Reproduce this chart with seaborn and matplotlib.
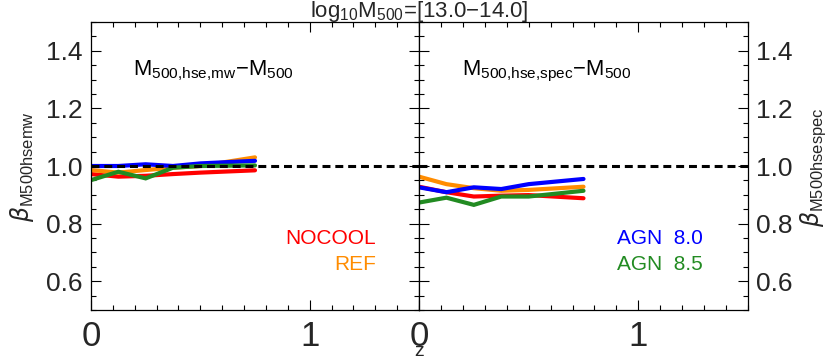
import numpy as np
import pandas as pd
import matplotlib
matplotlib.use("Agg")
import matplotlib.pyplot as plt
import seaborn as sns
from matplotlib.ticker import MultipleLocator, FixedLocator

sns.set_theme(style="white")
plt.rcParams['font.family'] = ['Liberation Sans', 'DejaVu Sans']
plt.rcParams['mathtext.fontset'] = 'custom'
plt.rcParams['mathtext.rm'] = 'Liberation Sans'
plt.rcParams['mathtext.it'] = 'DejaVu Sans:italic'
plt.rcParams['mathtext.bf'] = 'Liberation Sans:bold'

# ---- data ----
z = [0.0, 0.125, 0.25, 0.375, 0.5, 0.75]
models = ["NOCOOL", "REF", "AGN 8.0", "AGN 8.5"]
colors = ["#ff0000", "#ff8c00", "#0000ff", "#228b22"]

mw_nocool = [0.972, 0.963, 0.966, 0.972, 0.977, 0.985]
mw_ref    = [0.986, 0.977, 0.986, 0.994, 1.000, 1.030]
mw_agn80  = [1.000, 1.000, 1.006, 1.000, 1.009, 1.018]
mw_agn85  = [0.951, 0.980, 0.957, 0.994, 1.000, 1.002]

sp_nocool = [0.928, 0.909, 0.894, 0.897, 0.899, 0.888]
sp_ref    = [0.963, 0.937, 0.923, 0.914, 0.917, 0.928]
sp_agn80  = [0.926, 0.909, 0.926, 0.920, 0.937, 0.955]
sp_agn85  = [0.873, 0.890, 0.865, 0.894, 0.894, 0.914]

yticks = [0.6, 0.8, 1.0, 1.2, 1.4]
xticks = [0, 1]

def long_df(series):
    rows = []
    for m, vals in zip(models, series):
        for zz, v in zip(z, vals):
            rows.append({"z": zz, "beta": v, "model": m})
    return pd.DataFrame(rows)

df_mw = long_df([mw_nocool, mw_ref, mw_agn80, mw_agn85])
df_sp = long_df([sp_nocool, sp_ref, sp_agn80, sp_agn85])

fig = plt.figure(figsize=(8.3, 3.61), dpi=100)
axL = fig.add_axes([91/830, 1-310/361, 328/830, 288/361])
axR = fig.add_axes([419/830, 1-310/361, 329/830, 288/361])

pal = dict(zip(models, colors))
for ax, df in [(axL, df_mw), (axR, df_sp)]:
    sns.lineplot(data=df, x="z", y="beta", hue="model", palette=pal,
                 hue_order=models, lw=3.0, ax=ax, legend=False,
                 solid_joinstyle='miter')
    ax.axhline(1.0, color='black', ls=(0, (2.6, 1.6)), lw=2.2, zorder=5)
    ax.set_xlim(0, 1.5)
    ax.set_ylim(0.5, 1.5)
    ax.xaxis.set_major_locator(FixedLocator(xticks))
    ax.xaxis.set_minor_locator(MultipleLocator(0.1))
    ax.yaxis.set_major_locator(FixedLocator(yticks))
    ax.yaxis.set_minor_locator(MultipleLocator(0.05))
    ax.tick_params(which='both', direction='in', top=True, right=True,
                   bottom=True, left=True, color='black', width=0.8)
    ax.tick_params(which='major', length=7)
    ax.tick_params(which='minor', length=3.5)
    ax.tick_params(axis='x', which='major', pad=7, labelsize=25)
    ax.tick_params(axis='y', which='major', pad=6, labelsize=19)
    ax.set_xlabel("")
    ax.set_ylabel("")
    ax.set_xticklabels([str(t) for t in xticks])
    for s in ax.spines.values():
        s.set_color('black')
        s.set_linewidth(0.9)
    ax.set_facecolor('white')

axL.set_yticklabels([f"{t:.1f}" for t in yticks])
axR.yaxis.tick_right()
axR.tick_params(which='both', left=True, right=True, labelleft=False, labelright=True)
axR.set_yticklabels([f"{t:.1f}" for t in yticks])

fig.text(22/830, 1-167/361, r"$\it{\beta}_{\mathrm{M500hsemw}}$", fontsize=17,
         rotation=90, ha='center', va='center')
fig.text(813/830, 1-167/361, r"$\it{\beta}_{\mathrm{M500hsespec}}$", fontsize=17,
         rotation=90, ha='center', va='center')

axL.text(0.128, 0.816, r"M$_{\mathrm{500{,}hse{,}mw}}$$-$M$_{\mathrm{500}}$",
         transform=axL.transAxes, fontsize=15.8, color='black', va='baseline')
axR.text(0.131, 0.816, r"M$_{\mathrm{500{,}hse{,}spec}}$$-$M$_{\mathrm{500}}$",
         transform=axR.transAxes, fontsize=15.8, color='black', va='baseline')

axL.text(0.869, 0.229, "NOCOOL", transform=axL.transAxes, fontsize=15,
         color=colors[0], ha='right', va='baseline')
axL.text(0.869, 0.139, "REF", transform=axL.transAxes, fontsize=15,
         color=colors[1], ha='right', va='baseline')
axR.text(0.863, 0.229, "AGN  8.0", transform=axR.transAxes, fontsize=15,
         color=colors[2], ha='right', va='baseline')
axR.text(0.863, 0.139, "AGN  8.5", transform=axR.transAxes, fontsize=15,
         color=colors[3], ha='right', va='baseline')

fig.text(419/830, 1-11/361, r"log$_{\mathrm{10}}$M$_{\mathrm{500}}$=[13.0$-$14.0]",
         ha='center', va='center', fontsize=16)
fig.text(419/830, 1-352/361, "z", ha='center', va='center', fontsize=14)

fig.savefig("out.png", dpi=100, facecolor='white')
